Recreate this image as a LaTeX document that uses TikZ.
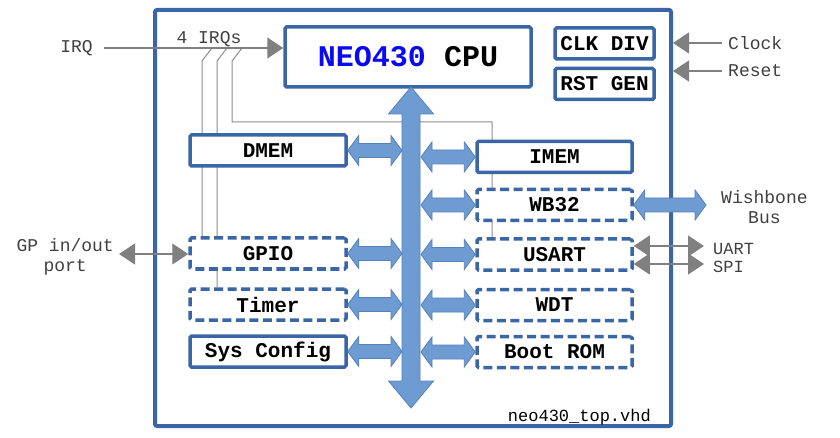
\documentclass[tikz,border=0pt]{standalone}
\usepackage{fontspec}
\setmonofont{Liberation Mono}
\usetikzlibrary{arrows.meta, positioning, calc, backgrounds}

\definecolor{neoblue}{HTML}{3A66A8}
\definecolor{busfill}{HTML}{6E9CD2}
\definecolor{busline}{HTML}{5580BC}
\definecolor{neotext}{HTML}{0A0AF0}
\definecolor{siggray}{HTML}{808080}

\newcommand{\blkfont}{\fontsize{21}{24}\selectfont\ttfamily\bfseries}
\newcommand{\cpufont}{\fontsize{30}{32}\selectfont\ttfamily\bfseries}
\newcommand{\lblfont}{\fontsize{18}{20.5}\selectfont\ttfamily}

\begin{document}
\begin{tikzpicture}[x=1pt, y=-1pt, >={Triangle[length=16pt,width=21pt]},
  blk/.style={draw=neoblue, line width=3.5pt, fill=white, rounded corners=1.5pt,
    font=\blkfont, inner sep=0pt, minimum width=156pt, minimum height=31pt},
  optblk/.style={blk, dash pattern=on 9pt off 4.5pt},
  lbl/.style={font=\lblfont, text=black!75, inner sep=3pt},
  sig/.style={siggray, line width=1.2pt},
  tap/.style={gray!90, line width=1pt},
  hbus/.style={fill=busfill, draw=busline, line width=0.8pt,
    to path={let \p1=(\tikztostart), \p2=(\tikztotarget) in
      -- (\x1+11pt,\y1+15pt) -- (\x1+11pt,\y1+7pt) -- (\x2-11pt,\y1+7pt)
      -- (\x2-11pt,\y1+15pt) -- (\x2,\y1) -- (\x2-11pt,\y1-15pt)
      -- (\x2-11pt,\y1-7pt) -- (\x1+11pt,\y1-7pt) -- (\x1+11pt,\y1-15pt) -- cycle}},
  vbus/.style={fill=busfill, draw=busline, line width=0.8pt,
    to path={let \p1=(\tikztostart), \p2=(\tikztotarget) in
      -- (\x1+22.5pt,\y1-27pt) -- (\x1+9pt,\y1-27pt) -- (\x1+9pt,\y2+27pt)
      -- (\x1+22.5pt,\y2+27pt) -- (\x1,\y2) -- (\x1-22.5pt,\y2+27pt)
      -- (\x1-9pt,\y2+27pt) -- (\x1-9pt,\y1-27pt) -- (\x1-22.5pt,\y1-27pt) -- cycle}}]
  \useasboundingbox (0,0) rectangle (840,438);

  % outer entity
  \node[draw=neoblue, line width=4pt, rounded corners=2pt, inner sep=0pt,
    minimum width=516pt, minimum height=416pt] (top) at (413,218) {};
  \node[font=\fontsize{17}{19}\selectfont\ttfamily, inner sep=3pt, anchor=east]
    (fname) at ([xshift=-19pt, yshift=11pt]top.south east) {neo430\_top.vhd};

  % blocks
  \node[blk, minimum width=246pt, minimum height=60pt, font=\cpufont]
    (cpu) at (408,57) {{\color{neotext}NEO430} CPU};
  \node[blk, minimum width=99pt] (clkdiv) at (604.5,43.5) {CLK DIV};
  \node[blk, minimum width=99pt] (rstgen) at (604.5,84) {RST GEN};
  \node[blk] (dmem) at (268,150.5) {DMEM};
  \node[optblk] (gpio) at (268,253.5) {GPIO};
  \node[optblk] (timer) at (268,304.5) {Timer};
  \node[blk] (sysconf) at (268,351.5) {Sys Config};
  \node[blk, minimum width=155pt] (imem) at (554.5,157) {IMEM};
  \node[optblk, minimum width=155pt] (wb) at (554.5,205) {WB32};
  \node[optblk, minimum width=155pt] (usart) at (554.5,254.5) {USART};
  \node[optblk, minimum width=155pt] (wdt) at (554.5,305) {WDT};
  \node[optblk, minimum width=155pt] (bootrom) at (554.5,352) {Boot ROM};

  % free ends
  \coordinate (irqin) at (104,48);
  \coordinate (clkin) at (722,43);
  \coordinate (rstin) at (722,71);
  \coordinate (gpin) at (119,254);
  \coordinate (wbout) at (706,205);
  \coordinate (uartout) at (704,246);
  \coordinate (spiout) at (704,264);
  \coordinate (t1) at (202,61);
  \coordinate (t2) at (217,61);
  \coordinate (t3) at (232,61);
  \coordinate (tapr) at (492,122);
  \coordinate (bustop) at (411,87);
  \coordinate (busbot) at (411,408);
  \coordinate (busl) at (402,87);
  \coordinate (busr) at (421,87);

  % interrupt lines (behind the blocks)
  \begin{scope}[on background layer]
    \fill[white] (0,0) rectangle (840,438);
    \draw[tap] (212,48) -- (t1) -- (t1 |- gpio.north);
    \draw[tap] (227,48) -- (t2) -- (t2 |- timer.north);
    \draw[tap] (242,48) -- (t3) |- (tapr) -- (tapr |- usart.north);
  \end{scope}

  % outside signals
  \node[lbl, left=8pt of irqin] (irqlbl) {IRQ};
  \node[lbl] (irqs) at (209,39) {4 IRQs};
  \node[lbl, right=3pt of clkin] (clklbl) {Clock};
  \node[lbl, right=3pt of rstin] (rstlbl) {Reset};
  \node[lbl, align=center, left=2pt of gpin, yshift=-3pt] (gplbl) {GP in/out\\port};
  \node[lbl, align=center, right=12pt of wbout, yshift=-2pt] (wblbl) {Wishbone\\Bus};
  \node[lbl, align=left, font=\fontsize{17}{18}\selectfont\ttfamily,
    right=6pt of uartout, yshift=-12pt] (usartlbl) {UART\\SPI};

  \draw[sig, ->] (irqin) -- (irqin -| cpu.west);
  \draw[sig, ->] (clkin) -- (clkin -| top.east);
  \draw[sig, ->] (rstin) -- (rstin -| top.east);
  \draw[sig, <->] (gpin) -- (gpin -| gpio.west);
  \draw[sig, <->] (uartout -| usart.east) -- (uartout);
  \draw[sig, <->] (spiout -| usart.east) -- (spiout);

  % bus
  \draw[hbus] (dmem.east) to (dmem.east -| busl);
  \draw[hbus] (gpio.east) to (gpio.east -| busl);
  \draw[hbus] (timer.east) to (timer.east -| busl);
  \draw[hbus] (sysconf.east) to (sysconf.east -| busl);
  \draw[hbus] (busr |- imem.west) to (imem.west);
  \draw[hbus] (busr |- wb.west) to (wb.west);
  \draw[hbus] (busr |- usart.west) to (usart.west);
  \draw[hbus] (busr |- wdt.west) to (wdt.west);
  \draw[hbus] (busr |- bootrom.west) to (bootrom.west);
  \draw[hbus] (wb.east) to (wbout);
  \draw[vbus] (bustop) to (busbot);
\end{tikzpicture}
\end{document}
